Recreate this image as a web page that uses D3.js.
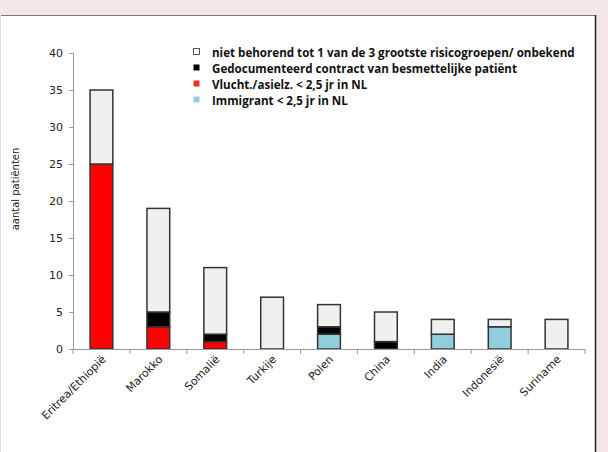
<!DOCTYPE html>
<html>
<head>
<script src="https://cdn.jsdelivr.net/npm/d3@7"></script>
<style>
body { margin: 0; background: #f2e7e5; }
svg text { font-family: "DejaVu Sans", Verdana, sans-serif; }
.leg text { font-family: "Open Sans", sans-serif; font-weight: bold; }
</style>
</head>
<body>
<script>
// data
var landen = ["Eritrea/Ethiopië", "Marokko", "Somalië", "Turkije", "Polen", "China", "India", "Indonesië", "Suriname"];
var immigrant = [0, 0, 0, 0, 2, 0, 2, 3, 0];
var vluchteling = [25, 3, 1, 0, 0, 0, 0, 0, 0];
var contact = [0, 2, 1, 0, 1, 1, 0, 0, 0];
var overig = [10, 14, 9, 7, 3, 4, 2, 1, 4];
var yTicks = [0, 5, 10, 15, 20, 25, 30, 35, 40];
var legendaTekst = ["niet behorend tot 1 van de 3 grootste risicogroepen/ onbekend",
                    "Gedocumenteerd contract van besmettelijke patiënt",
                    "Vlucht./asielz. < 2,5 jr in NL",
                    "Immigrant < 2,5 jr in NL"];

var width = 608, height = 452;
var series = [
  {key: "immigrant", vals: immigrant, color: "#92cddc"},
  {key: "vlucht", vals: vluchteling, color: "#ff0000"},
  {key: "contact", vals: contact, color: "#000000"},
  {key: "overig", vals: overig, color: "#f0f0f0"}
];

var svg = d3.select("body").append("svg")
  .attr("width", width).attr("height", height);

// white panel
svg.append("rect").attr("x", 0).attr("y", 15).attr("width", 595).attr("height", height - 15)
  .attr("fill", "#fff");
svg.append("line").attr("x1", 0).attr("x2", 596).attr("y1", 15.5).attr("y2", 15.5)
  .attr("stroke", "#777").attr("stroke-width", 1);
svg.append("line").attr("x1", 595.5).attr("x2", 595.5).attr("y1", 15).attr("y2", height)
  .attr("stroke", "#222").attr("stroke-width", 1.5);
svg.append("line").attr("x1", 0.5).attr("x2", 0.5).attr("y1", 15).attr("y2", height)
  .attr("stroke", "#ddd").attr("stroke-width", 1);

var x = d3.scaleBand().domain(landen).range([73, 585]).paddingInner(0.6).paddingOuter(0.3);
var y = d3.scaleLinear().domain([0, 40]).range([349, 53]);

// stacking
var rows = landen.map(function(l, i) {
  var r = {land: l};
  series.forEach(function(s) { r[s.key] = s.vals[i]; });
  return r;
});
var stack = d3.stack().keys(series.map(function(s) { return s.key; }))(rows);

var g = svg.append("g");
g.selectAll("g.serie").data(stack).enter().append("g")
  .attr("class", "serie")
  .attr("fill", function(d, i) { return series[i].color; })
  .selectAll("rect")
  .data(function(d) { return d.filter(function(p) { return p[1] > p[0]; }); })
  .enter().append("rect")
  .attr("x", function(d) { return x(d.data.land); })
  .attr("width", x.bandwidth())
  .attr("y", function(d) { return y(d[1]); })
  .attr("height", function(d) { return y(d[0]) - y(d[1]); })
  .attr("stroke", "#333").attr("stroke-width", 1.5);

// y axis
var yAxis = svg.append("g").attr("transform", "translate(73,0)")
  .call(d3.axisLeft(y).tickValues(yTicks).tickSize(4).tickPadding(6));
yAxis.select(".domain").attr("stroke", "#999").attr("d", "M-4,53.5H0.5V349.5H-4");
yAxis.selectAll(".tick line").attr("stroke", "#999");
yAxis.selectAll("text").attr("font-size", 11).attr("fill", "#222")
  .style("font-family", "DejaVu Sans");

// x axis
var xTickPos = landen.map(function(l, i) { return 73 + i * 512 / 9; }).concat([585]);
svg.append("line").attr("x1", 73).attr("x2", 585).attr("y1", 349.5).attr("y2", 349.5)
  .attr("stroke", "#999");
svg.selectAll("line.xt").data(xTickPos).enter().append("line")
  .attr("class", "xt")
  .attr("x1", function(d) { return d; }).attr("x2", function(d) { return d; })
  .attr("y1", 349).attr("y2", 354).attr("stroke", "#999");

svg.selectAll("text.xl").data(landen).enter().append("text")
  .attr("class", "xl")
  .attr("text-anchor", "end")
  .attr("font-size", 11)
  .attr("fill", "#222")
  .attr("transform", function(d) {
    return "translate(" + (x(d) + x.bandwidth() / 2 + 5) + ",360) rotate(-45)";
  })
  .text(function(d) { return d; });

// y label
svg.append("text")
  .attr("transform", "translate(19,189) rotate(-90)")
  .attr("text-anchor", "middle")
  .attr("font-size", 10)
  .attr("fill", "#222")
  .text("aantal patiënten");

// legend
var legKleur = ["#ffffff", "#000000", "#ee3322", "#92cddc"];
var leg = svg.append("g").attr("class", "leg");
var legItems = leg.selectAll("g").data(legendaTekst).enter().append("g")
  .attr("transform", function(d, i) { return "translate(193," + (52 + i * 16) + ")"; });
legItems.append("rect")
  .attr("x", 0.5).attr("y", -3.5).attr("width", 6).attr("height", 6)
  .attr("fill", function(d, i) { return legKleur[i]; })
  .attr("stroke", function(d, i) { return i == 0 ? "#555" : "none"; });
legItems.append("text")
  .attr("x", 19).attr("y", 4.5)
  .attr("font-size", 11.6)
  .attr("fill", "#111")
  .text(function(d) { return d; });
</script>
</body>
</html>
